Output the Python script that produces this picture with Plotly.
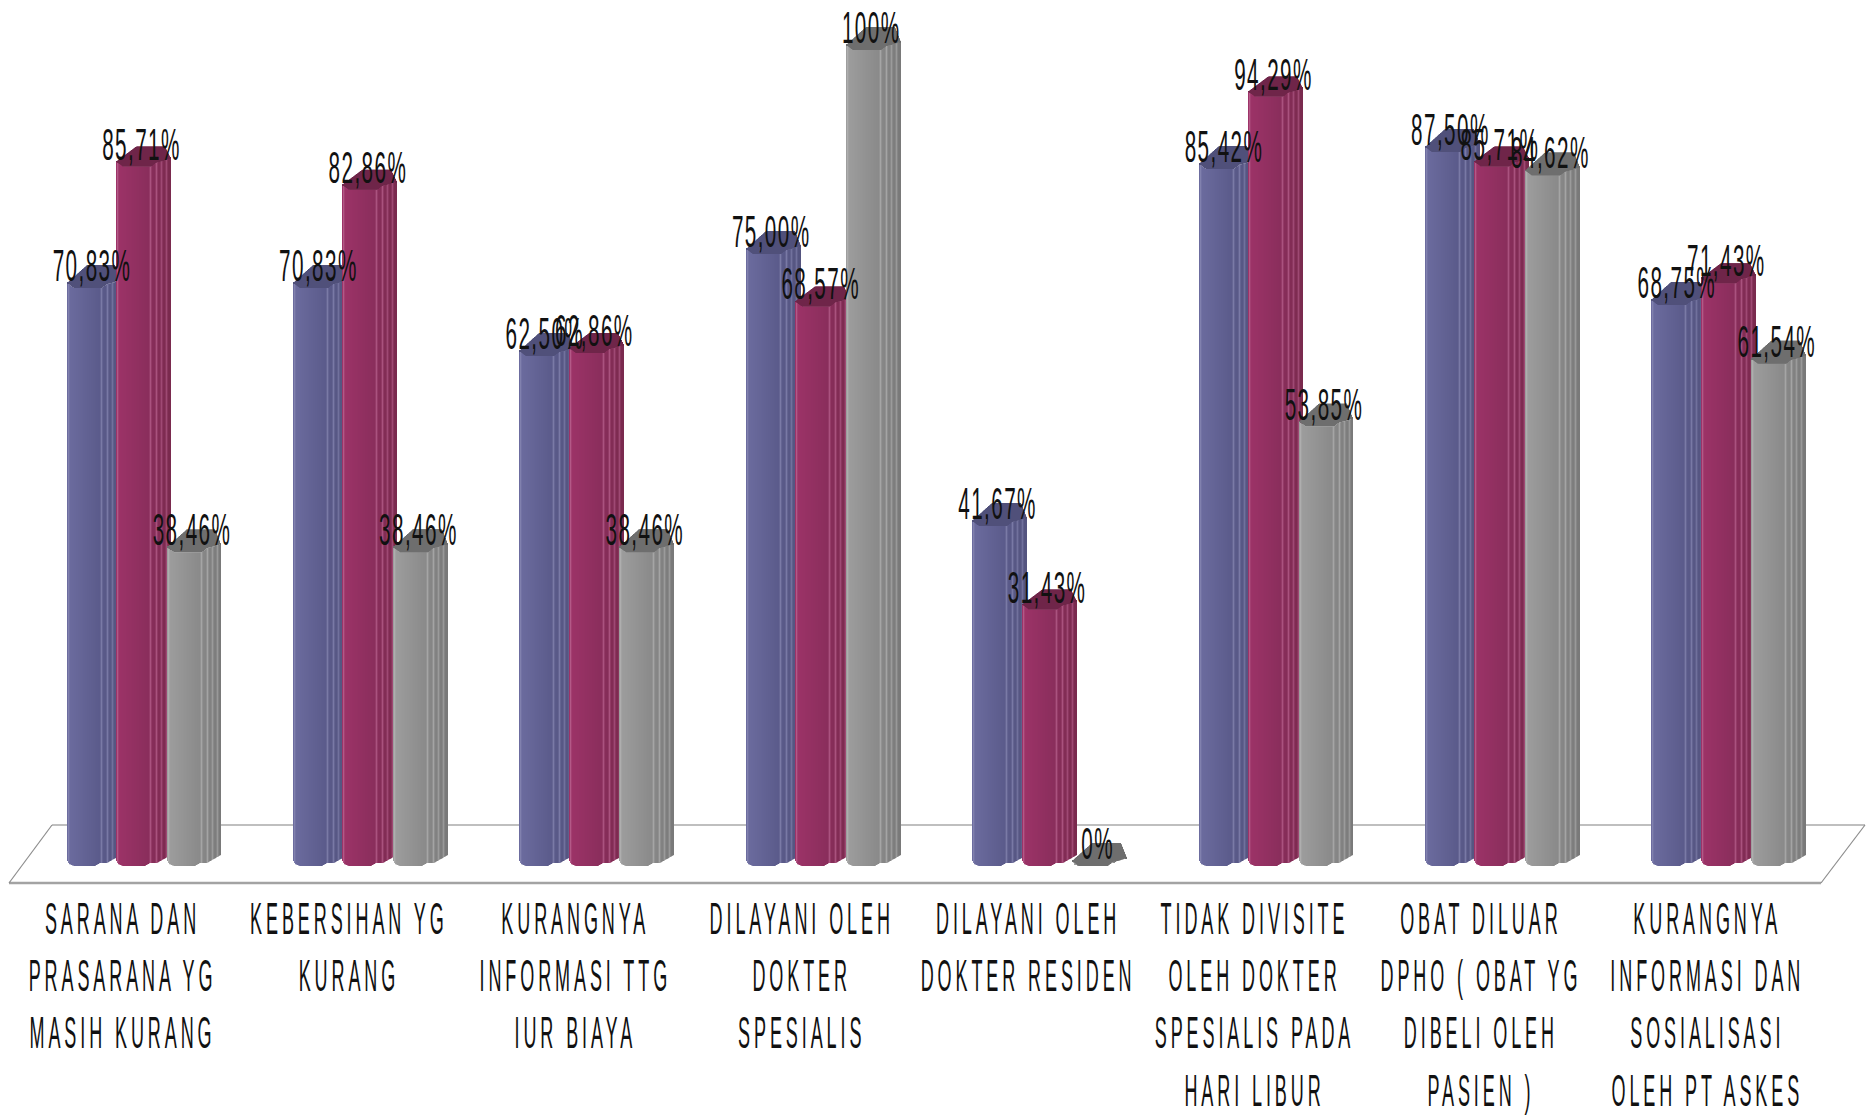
import numpy as np
import plotly.graph_objects as go

# Survey categories, one entry per group of columns
categories = [
    "SARANA DAN<br>PRASARANA YG<br>MASIH KURANG",
    "KEBERSIHAN YG<br>KURANG",
    "KURANGNYA<br>INFORMASI TTG<br>IUR BIAYA",
    "DILAYANI OLEH<br>DOKTER<br>SPESIALIS",
    "DILAYANI OLEH<br>DOKTER RESIDEN",
    "TIDAK DIVISITE<br>OLEH DOKTER<br>SPESIALIS PADA<br>HARI LIBUR",
    "OBAT DILUAR<br>DPHO ( OBAT YG<br>DIBELI OLEH<br>PASIEN )",
    "KURANGNYA<br>INFORMASI DAN<br>SOSIALISASI<br>OLEH PT ASKES",
]

# Percentages for the three series
series_a = [70.83, 70.83, 62.50, 75.00, 41.67, 85.42, 87.50, 68.75]
series_b = [85.71, 82.86, 62.86, 68.57, 31.43, 94.29, 85.71, 71.43]
series_c = [38.46, 38.46, 38.46, 100.0, 0.0, 53.85, 84.62, 61.54]

labels_a = ["70,83%", "70,83%", "62,50%", "75,00%", "41,67%", "85,42%", "87,50%", "68,75%"]
labels_b = ["85,71%", "82,86%", "62,86%", "68,57%", "31,43%", "94,29%", "85,71%", "71,43%"]
labels_c = ["38,46%", "38,46%", "38,46%", "100%", "0%", "53,85%", "84,62%", "61,54%"]

# Page and scale geometry, in pixels
WIDTH, HEIGHT = 1869, 1115
PLOT_BOTTOM = 889
GROUP_PITCH = 226.4       # px per category
FIRST_CENTER = 144.5      # px position of category 0
BASE_Y = 866              # px position of value 0
PX_PER_PCT = 8.16         # px per percentage point
COLUMN_WIDTH = 54
LABEL_SHIFT = -22         # tick labels sit left of the column group
VALUE_LABEL_RISE = 18     # px from column rim to label centre
VALUE_LABEL_SHIFT = -2    # px sideways from column centre


def to_x(px):
    return (px - FIRST_CENTER) / GROUP_PITCH


def to_y(py):
    return (BASE_Y - py) / PX_PER_PCT


# Octagonal column outline: pixel rise of each outline at position u across the column
BOTTOM_U, BOTTOM_RISE = [0, 2, 7, 28, 33, 40, 47, 54], [6, 2, 0, 0, 3, 3, 7, 11]
RIM_U, RIM_RISE = [0, 7, 35, 40, 48, 54], [5, 0, 0, 4, 6, 8]
BACK_U = [0, 20, 48, 54]
# Soft highlight along each facet edge: strip position -> strength
EDGE_GLOW = {1: 0.8, 2: 0.25, 33: 0.25, 34: 0.7, 35: 0.25, 39: 0.25, 40: 0.7, 41: 0.25,
             44: 0.2, 45: 0.55, 46: 0.2, 49: 0.2, 50: 0.55, 51: 0.2}

styles = [
    dict(values=series_a, labels=labels_a, left=-77.5, cap_height=23, cap="#50507a",
         ramp=["#6c6c9f", "#5b5b8b", "#54547f"], edge="#8787b2"),
    dict(values=series_b, labels=labels_b, left=-28.0, cap_height=20, cap="#6f2549",
         ramp=["#9d3368", "#8a2e5c", "#7a2a4e"], edge="#b9628f"),
    dict(values=series_c, labels=labels_c, left=22.5, cap_height=23, cap="#6e6e6e",
         ramp=["#9e9e9e", "#8a8a8a", "#797979"], edge="#b2b2b2"),
]


def hex_rgb(h):
    return np.array([int(h[i:i + 2], 16) for i in (1, 3, 5)], dtype=float)


def shade(st, u):
    t = u / (COLUMN_WIDTH - 1)
    stops = np.array([hex_rgb(c) for c in st["ramp"]])
    rgb = np.array([np.interp(t, [0, 0.6, 1], stops[:, j]) for j in range(3)])
    rgb += (hex_rgb(st["edge"]) - rgb) * EDGE_GLOW.get(u, 0)
    return "rgb(%d,%d,%d)" % tuple(round(v) for v in rgb)


fig = go.Figure()
xs = np.arange(len(categories))
strip = 1 / GROUP_PITCH

for st in styles:
    vals = np.array(st["values"])
    for u in range(COLUMN_WIDTH):
        offset = (st["left"] + u) / GROUP_PITCH
        base = np.interp(u + 0.5, BOTTOM_U, BOTTOM_RISE) / PX_PER_PCT
        rim = vals + np.interp(u + 0.5, RIM_U, RIM_RISE) / PX_PER_PCT
        back = np.interp(u + 0.5, BACK_U, [5, st["cap_height"], st["cap_height"], 8])
        top = vals + back / PX_PER_PCT
        # Column wall
        fig.add_trace(go.Bar(x=xs, y=np.maximum(rim - base, 0), base=base, width=strip, offset=offset,
                             marker=dict(color=shade(st, u), line=dict(width=0)), hoverinfo="skip"))
        # Slice of the top face
        fig.add_trace(go.Bar(x=xs, y=top - rim, base=rim, width=strip, offset=offset,
                             marker=dict(color=st["cap"], line=dict(width=0)), hoverinfo="skip"))

# Value labels above each column
for st in styles:
    center = (st["left"] + COLUMN_WIDTH / 2 + VALUE_LABEL_SHIFT) / GROUP_PITCH
    fig.add_trace(go.Scatter(x=xs + center, y=np.array(st["values"]) + VALUE_LABEL_RISE / PX_PER_PCT,
                             text=st["labels"], mode="text", textposition="middle center",
                             textfont=dict(family="Liberation Sans", size=44, color="#111111"),
                             hoverinfo="skip"))

# Floor of the chart, behind the columns
floor_back = dict(x0=to_x(52), x1=to_x(1865), y0=to_y(825), y1=to_y(825))
floor_front = dict(x0=to_x(9), x1=to_x(1821), y0=to_y(883), y1=to_y(883))
shapes = [
    dict(type="line", layer="below", line=dict(color="#808080", width=1.2), **floor_back),
    dict(type="line", layer="below", line=dict(color="#a3a3a3", width=2.4), **floor_front),
    dict(type="line", layer="below", line=dict(color="#8c8c8c", width=1.2),
         x0=to_x(9), y0=to_y(883), x1=to_x(52), y1=to_y(825)),
    dict(type="line", layer="below", line=dict(color="#8c8c8c", width=1.2),
         x0=to_x(1821), y0=to_y(883), x1=to_x(1865), y1=to_y(825)),
]

fig.update_layout(
    width=WIDTH, height=HEIGHT,
    margin=dict(l=0, r=0, t=0, b=HEIGHT - PLOT_BOTTOM, pad=0),
    paper_bgcolor="white", plot_bgcolor="white",
    barmode="overlay", showlegend=False, hovermode=False, shapes=shapes,
    xaxis=dict(range=[to_x(0), to_x(WIDTH)], tickmode="array", automargin=False,
               tickvals=(xs + LABEL_SHIFT / GROUP_PITCH).tolist(), ticktext=categories,
               tickangle=0, ticks="", showgrid=False, zeroline=False, showline=False,
               ticklabeloverflow="allow", ticklabelstandoff=0,
               tickfont=dict(family="Liberation Sans", size=44, color="#111111")),
    yaxis=dict(range=[to_y(PLOT_BOTTOM), to_y(0)], visible=False, automargin=False),
)

# Squeeze glyphs horizontally around each text's anchor for the tall, condensed lettering
squeeze_js = """
var gd = document.getElementById('{plot_id}');
function squeeze(sel, k, spacing) {
  gd.querySelectorAll(sel).forEach(function (t) {
    var x = parseFloat(t.getAttribute('x')) || 0;
    var prior = t.getAttribute('transform') || '';
    t.style.letterSpacing = spacing + 'px';
    t.setAttribute('transform', prior + ' translate(' + x + ',0) scale(' + k + ',1) translate(' + (-x) + ',0)');
  });
}
squeeze('.xtick text', 0.41, 9.5);
squeeze('.textpoint text', 0.47, 3);
"""

fig.write_html("out.html", config=dict(displayModeBar=False), post_script=squeeze_js)
